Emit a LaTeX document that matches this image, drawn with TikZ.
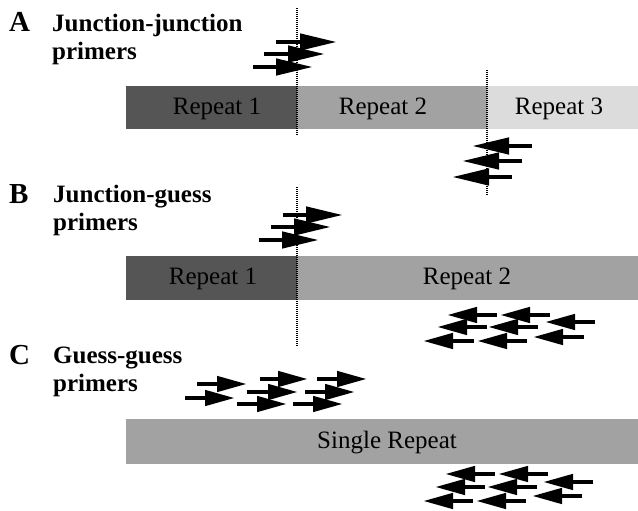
\documentclass[tikz,border=0pt]{standalone}
\usepackage{fontspec}
\setmainfont{Liberation Serif}
\usetikzlibrary{arrows.meta}
\definecolor{darkrep}{HTML}{555555}
\definecolor{midrep}{HTML}{A2A2A2}
\definecolor{lightrep}{HTML}{DCDCDC}
\begin{document}
\begin{tikzpicture}[x=1pt,y=-1pt,
  bigarr/.style={line width=4.5pt,-{Triangle[length=37pt,width=16pt]}},
  smallarr/.style={line width=4.5pt,-{Triangle[length=30pt,width=15pt]}},
  junc/.style={line width=1.4pt,dash pattern=on 1pt off 1pt},
  letter/.style={anchor=base west,inner sep=0pt,font=\fontsize{29}{32}\selectfont\bfseries},
  title/.style={anchor=base west,inner sep=0pt,font=\fontsize{25}{28}\selectfont\bfseries},
  rep/.style={anchor=base,inner sep=0pt,font=\fontsize{25}{28}\selectfont,text=black}]
\useasboundingbox (0,0) rectangle (638,511);
% ---------- A ----------
\fill[darkrep] (126,86) rectangle (297,129);
\fill[midrep] (297,86) rectangle (487,129);
\fill[lightrep] (487,86) rectangle (638,129);
\node[rep] (a1) at (217,114) {Repeat 1};
\node[rep] (a2) at (383,114) {Repeat 2};
\node[rep] (a3) at (559,114) {Repeat 3};
\node[letter] (la) at (9,32) {A};
\node[title] (ta1) at (52,32) {Junction-junction};
\node[title] (ta2) at (52,60) {primers};
\draw[junc] (297,8) -- (297,135);
\draw[junc] (487,70) -- (487,196);
\draw[bigarr] (276,42) -- (337,42);
\draw[bigarr] (264,54) -- (325,54);
\draw[bigarr] (253,67) -- (313,67);
\draw[bigarr] (532,146) -- (472,146);
\draw[bigarr] (522,161) -- (462,161);
\draw[bigarr] (512,177) -- (452,177);
% ---------- B ----------
\fill[darkrep] (126,256) rectangle (297,300);
\fill[midrep] (297,256) rectangle (638,300);
\node[rep] (b1) at (213,284.5) {Repeat 1};
\node[rep] (b2) at (467,284.5) {Repeat 2};
\node[letter] (lb) at (9,203) {B};
\node[title] (tb1) at (53,202) {Junction-guess};
\node[title] (tb2) at (53,230) {primers};
\draw[junc] (297,187) -- (297,346);
\draw[bigarr] (283,215) -- (343,215);
\draw[bigarr] (271,227) -- (331,227);
\draw[bigarr] (259,240) -- (319,240);
\draw[smallarr] (497,315) -- (447,315);
\draw[smallarr] (550,315) -- (500,315);
\draw[smallarr] (595,322) -- (545,322);
\draw[smallarr] (487,327) -- (437,327);
\draw[smallarr] (538,327) -- (488,327);
\draw[smallarr] (474,341) -- (423,341);
\draw[smallarr] (527,341) -- (477,341);
\draw[smallarr] (584,337) -- (533,337);
% ---------- C ----------
\fill[midrep] (126,419) rectangle (638,464);
\node[rep] (c1) at (387,448) {Single Repeat};
\node[letter] (lc) at (9,364) {C};
\node[title] (tc1) at (53,363) {Guess-guess};
\node[title] (tc2) at (53,391) {primers};
\draw[smallarr] (197,384) -- (247,384);
\draw[smallarr] (260,379) -- (308,379);
\draw[smallarr] (317,379) -- (367,379);
\draw[smallarr] (185,398) -- (235,398);
\draw[smallarr] (247,392) -- (298,392);
\draw[smallarr] (305,392) -- (355,392);
\draw[smallarr] (237,404) -- (287,404);
\draw[smallarr] (293,404) -- (343,404);
\draw[smallarr] (495,474) -- (445,474);
\draw[smallarr] (548,474) -- (498,474);
\draw[smallarr] (593,482) -- (543,482);
\draw[smallarr] (485,487) -- (435,487);
\draw[smallarr] (537,487) -- (487,487);
\draw[smallarr] (473,501) -- (423,501);
\draw[smallarr] (526,501) -- (476,501);
\draw[smallarr] (582,496) -- (532,496);
\end{tikzpicture}
\end{document}
